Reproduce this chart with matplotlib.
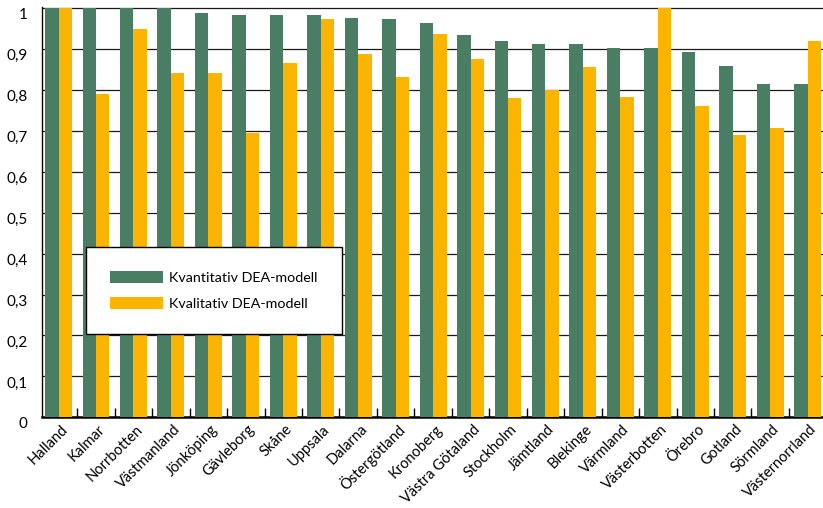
import numpy as np
import matplotlib
matplotlib.use('Agg')
import matplotlib.pyplot as plt
import matplotlib.transforms as mtransforms

lan = ['Halland', 'Kalmar', 'Norrbotten', 'Västmanland', 'Jönköping', 'Gävleborg',
       'Skåne', 'Uppsala', 'Dalarna', 'Östergötland', 'Kronoberg', 'Västra Götaland',
       'Stockholm', 'Jämtland', 'Blekinge', 'Värmland', 'Västerbotten', 'Örebro',
       'Gotland', 'Sörmland', 'Västernorrland']
kvantitativ = [1.0, 1.0, 1.0, 1.0, 0.989, 0.984, 0.984, 0.984, 0.976, 0.974, 0.964,
               0.935, 0.920, 0.913, 0.913, 0.903, 0.903, 0.893, 0.859, 0.815, 0.815]
kvalitativ = [1.0, 0.791, 0.950, 0.842, 0.842, 0.696, 0.867, 0.974, 0.889, 0.832, 0.937,
              0.876, 0.781, 0.799, 0.857, 0.784, 1.0, 0.762, 0.691, 0.706, 0.920]
yticks = [0, 0.1, 0.2, 0.3, 0.4, 0.5, 0.6, 0.7, 0.8, 0.9, 1.0]
ylabels = ['0', '0,1', '0,2', '0,3', '0,4', '0,5', '0,6', '0,7', '0,8', '0,9', '1']

plt.rcParams['font.family'] = ['Lato', 'DejaVu Sans']

fig = plt.figure(figsize=(8.23, 5.08), dpi=100)
ax = fig.add_axes([0.0507, 0.1785, 0.9493, 0.807])

x = np.arange(len(lan))
w = 0.36
ax.bar(x - w/2, kvantitativ, w, color='#4a7e64', label='Kvantitativ DEA-modell', zorder=3)
ax.bar(x + w/2, kvalitativ, w, color='#fbb500', label='Kvalitativ DEA-modell', zorder=3)

ax.set_xlim(-0.449, 20.41)
ax.set_ylim(0, 1.002)

ax.set_yticks(yticks)
ax.set_yticklabels(ylabels, fontsize=11, va='top')
ax.tick_params(axis='y', length=0, pad=10)
ax.grid(axis='y', color='#1a1a1a', linewidth=0.9, zorder=0)
ax.set_axisbelow(True)

ax.set_xticks(x)
ax.set_xticklabels(lan, fontsize=10.5, rotation=45, ha='right', va='center',
                   rotation_mode='anchor')
ax.tick_params(axis='x', which='major', length=0, pad=7)
ax.set_xticks(x[:-1] + 0.5, minor=True)
ax.tick_params(axis='x', which='minor', direction='in', length=6.5, width=1, color='black')
off = mtransforms.ScaledTranslation(7/100, 0, fig.dpi_scale_trans)
for lab in ax.get_xticklabels():
    lab.set_transform(lab.get_transform() + off)

for s in ['top', 'right']:
    ax.spines[s].set_visible(False)
ax.spines['left'].set_linewidth(1.0)
ax.spines['bottom'].set_linewidth(1.8)

leg = ax.legend(loc='upper left', bbox_to_anchor=(86/823, 1 - 247/508),
                bbox_transform=fig.transFigure, borderaxespad=0, fontsize=10.3,
                frameon=True, fancybox=False, edgecolor='black', framealpha=1,
                handlelength=3.7, handleheight=0.9, handletextpad=0.42,
                labelspacing=0.9, borderpad=1.7)
leg.get_frame().set_linewidth(1.0)
leg.set_zorder(5)

fig.savefig('out.png', dpi=100)
